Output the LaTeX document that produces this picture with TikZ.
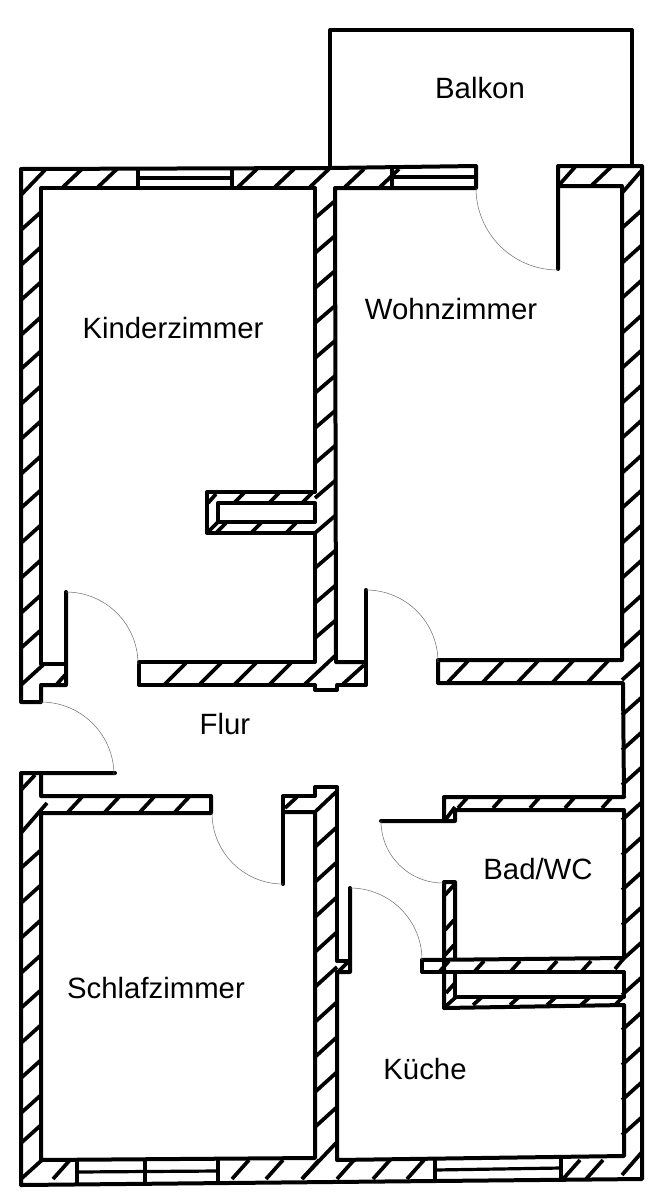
\documentclass[tikz,border=0pt]{standalone}
\usepackage{fontspec}
\setmainfont{Liberation Sans}

\begin{document}
\begin{tikzpicture}[
  x=0.75pt, y=-0.75pt,
  wall/.style={line width=3pt, line join=round, line cap=round},
  hatch/.style={line width=2.8pt},
  pane/.style={line width=2.4pt},
  swing/.style={line width=0.4pt, black!55},
  room/.style={font=\fontsize{22}{24}\selectfont},
]
\useasboundingbox (0,0) rectangle (659,1200);

% walls
\draw [wall] (66,592) -- (66,685) -- (41,685) -- (41,702) -- (21,702) -- (21,169) -- (330,168) -- (476,166) -- (476,188) -- (335,188) -- (336,662) -- (366,662);
\draw [wall] (366,590) -- (366,685) -- (337,685) -- (337,690) -- (315,690) -- (315,685) -- (139,685) -- (139,662) -- (315,662) -- (315,533) -- (207,533) -- (207,492) -- (315,492) -- (315,188) -- (41,188) -- (41,664) -- (66,664);
\draw [wall] (315,503) -- (218,503) -- (218,522) -- (315,522) -- cycle;
\draw [wall] (558,269) -- (558,166) -- (642,166) -- (642,1179) -- (21,1185) -- (21,773) -- (115,773);
\draw [wall] (41,773) -- (41,796) -- (211,796) -- (211,813) -- (41,813) -- (41,1160) -- (315,1158) -- (315,812) -- (283,812);
\draw [wall] (283,884) -- (283,796) -- (315,796) -- (315,787) -- (337,787) -- (337,961) -- (350,961);
\draw [wall] (350,888) -- (350,972) -- (337,972) -- (337,1160) -- (624,1156) -- (624,1005) -- (444,1008) -- (444,882) -- (455,882) -- (455,958);
\draw [wall] (422,960) -- (624,958) -- (624,810) -- (455,810) -- (455,821) -- (381,821);
\draw [wall] (444,821) -- (444,797) -- (624,797) -- (623,683) -- (438,683) -- (438,660) -- (622,660) -- (622,186) -- (558,186);
\draw [wall] (422,960) -- (422,972) -- (624,972) -- (624,997) -- (455,997) -- (455,972);

% balcony
\draw [wall] (330,168) -- (330,30) -- (632,30) -- (632,166);

% windows
\draw [pane] (138,169) -- (138,188);
\draw [pane] (232,169) -- (232,188);
\draw [pane] (138,178) -- (232,178);
\draw [pane] (392,166) -- (392,188);
\draw [pane] (392,177) -- (476,177);
\draw [pane] (77,1160) -- (77,1185);
\draw [pane] (145,1160) -- (145,1184);
\draw [pane] (218,1159) -- (218,1184);
\draw [pane] (77,1172) -- (218,1171);
\draw [pane] (435,1158) -- (435,1181);
\draw [pane] (561,1157) -- (561,1180);
\draw [pane] (435,1170) -- (561,1168);

% door swings
\draw [swing] (66,592) arc [start angle=-90, end angle=0, radius=72];
\draw [swing] (41,702) arc [start angle=-90, end angle=0, radius=73];
\draw [swing] (366,590) arc [start angle=-90, end angle=0, radius=72];
\draw [swing] (476,188) arc [start angle=180, end angle=90, radius=82];
\draw [swing] (212,813) arc [start angle=180, end angle=90, radius=71];
\draw [swing] (381,821) arc [start angle=180, end angle=90, radius=62];
\draw [swing] (350,888) arc [start angle=-90, end angle=0, radius=72];

% hatching along the thick walls
\foreach \x in {63,98,238,275,310,345,380} \draw [hatch] (\x,187) -- ++(19,-18);
\foreach \x in {592} \draw [hatch] (\x,185) -- ++(19,-18);
\foreach \y in {230,265,300,335,369,404,439,474,508,543,578,613,648} \draw [hatch] (21,\y) -- ++(20,-18);
\foreach \y in {218,253,288,323,358,393,428,463,498,533,568,603,638} \draw [hatch] (315,\y) -- ++(21,-18);
\foreach \y in {228,263,298,333,368,403,438,473,508,543,578,613,648,715,750,785,820,855,890,925,960,995,1030,1065,1100,1135} \draw [hatch] (622,\y) -- ++(20,-18);
\foreach \y in {847,882,917,952,987,1022,1057,1092,1127} \draw [hatch] (315,\y) -- ++(22,-20);
\foreach \y in {868,903,938,973,1008,1043,1078,1113,1143} \draw [hatch] (21,\y) -- ++(20,-18);
\foreach \x in {165,200,235,270} \draw [hatch] (\x,684) -- ++(21,-21);
\foreach \x in {448,483,518,553,588} \draw [hatch] (\x,682) -- ++(20,-21);
\foreach \x in {68,105,140,175} \draw [hatch] (\x,812) -- ++(14,-15);
\foreach \x in {53,232,266,302,337,373,407,563,586} \draw [hatch] (\x,1179) -- ++(17,-19);

% hatching of the thin walls
\foreach \x in {235,270,303} \draw [hatch] (\x,502) -- ++(9,-9);
\foreach \x in {217,252,287} \draw [hatch] (\x,532) -- ++(9,-9);
\foreach \x in {458,493,530,565,602} \draw [hatch] (\x,808) -- ++(9,-10);
\foreach \x in {440,475,511,548,582} \draw [hatch] (\x,971) -- ++(9,-10);
\foreach \x in {473,510,547,581} \draw [hatch] (\x,1005) -- ++(9,-8);
\foreach \y in {895,930,955} \draw [hatch] (445,\y) -- ++(9,-10);

% corners and junctions
\draw [hatch] (21,195) -- (45,170);
\draw [hatch] (21,685) -- (43,665);
\draw [hatch] (57,684) -- (65,675);
\draw [hatch] (21,790) -- (35,775);
\draw [hatch] (21,833) -- (47,803);
\draw [hatch] (21,1179) -- (42,1160);
\draw [hatch] (305,684) -- (336,655);
\draw [hatch] (343,684) -- (364,665);
\draw [hatch] (285,808) -- (297,797);
\draw [hatch] (316,811) -- (336,792);
\draw [hatch] (302,1179) -- (336,1143);
\draw [hatch] (560,184) -- (575,167);
\draw [hatch] (622,193) -- (642,170);
\draw [hatch] (622,680) -- (642,662);
\draw [hatch] (622,1175) -- (642,1152);
\draw [hatch] (208,503) -- (216,494);
\draw [hatch] (209,531) -- (218,522);
\draw [hatch] (446,819) -- (455,807);
\draw [hatch] (339,971) -- (349,961);
\draw [hatch] (446,993) -- (455,983);
\draw [hatch] (446,1006) -- (456,997);
\draw [hatch] (615,969) -- (624,958);
\draw [hatch] (615,1005) -- (624,996);

% room names
\node [room] (balkon) at (480,88) {Balkon};
\node [room] (kinder) at (173,328) {Kinderzimmer};
\node [room] (wohn) at (451,309) {Wohnzimmer};
\node [room] (flur) at (225,724) {Flur};
\node [room] (bad) at (538,869) {Bad/WC};
\node [room] (schlaf) at (156,988) {Schlafzimmer};
\node [room] (kueche) at (425,1069) {Küche};

\end{tikzpicture}
\end{document}
